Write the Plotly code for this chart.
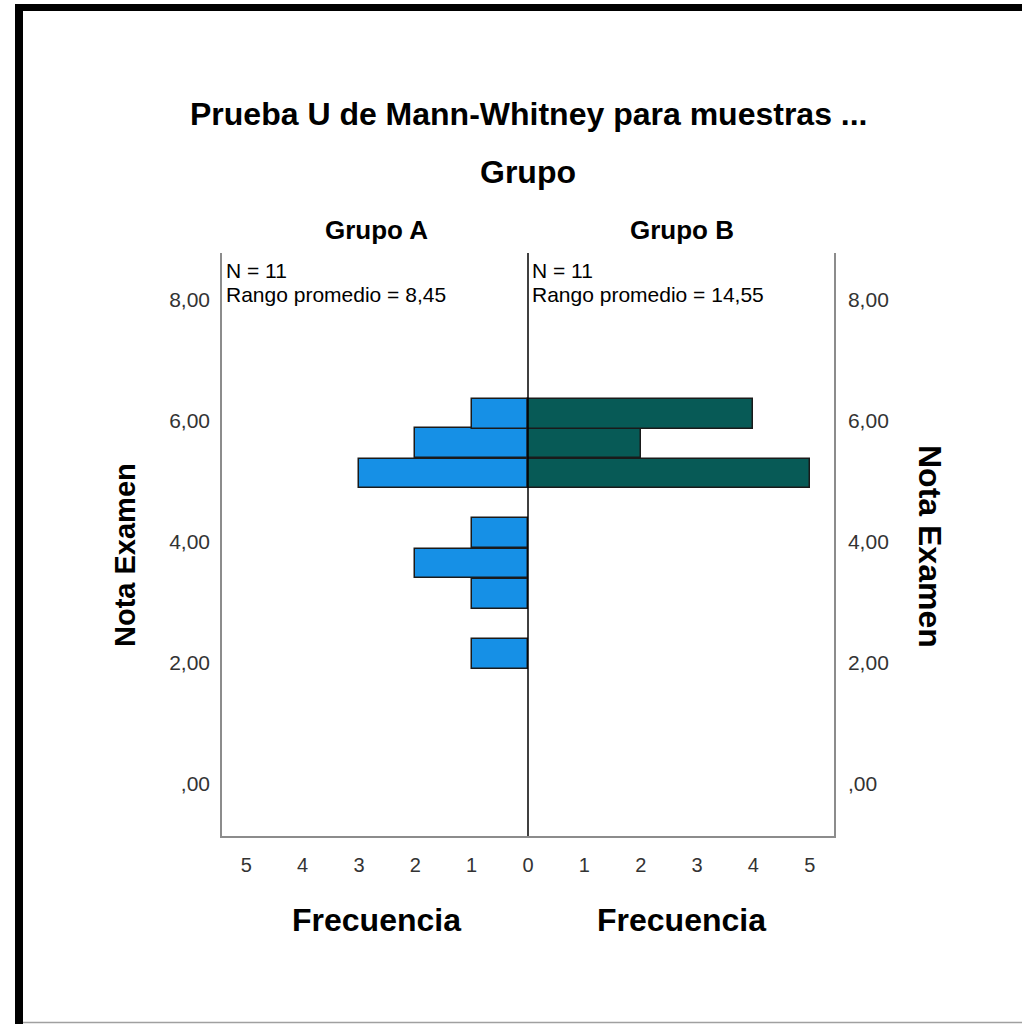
import plotly.graph_objects as go

W, H = 1022, 1024

# ---- data ----
nota_bins = [2.15, 3.14, 3.64, 4.14, 5.13, 5.63, 6.12]   # bin centres (Nota Examen)
freq_grupo_a = [1, 1, 2, 1, 3, 2, 1]
freq_grupo_b = [0, 0, 0, 0, 5, 2, 4]
bin_width = 0.495
freq_ticks = [-5, -4, -3, -2, -1, 0, 1, 2, 3, 4, 5]
freq_labels = ["5", "4", "3", "2", "1", "0", "1", "2", "3", "4", "5"]
nota_ticks = [0, 2, 4, 6, 8]
nota_labels = [",00", "2,00", "4,00", "6,00", "8,00"]
stats_a = ["N = 11", "Rango promedio = 8,45"]
stats_b = ["N = 11", "Rango promedio = 14,55"]

FONT = "Liberation Sans, Arial, sans-serif"
BLUE = "#1690E6"
TEAL = "#075A56"
EDGE = "#1a1a1a"
AXC = "#8c8c8c"


def px(x):
    return x / W


def py(y):
    return 1 - y / H


ya = [y for y, c in zip(nota_bins, freq_grupo_a) if c > 0]
xa = [-c for c in freq_grupo_a if c > 0]
yb = [y for y, c in zip(nota_bins, freq_grupo_b) if c > 0]
xb = [c for c in freq_grupo_b if c > 0]

fig = go.Figure()
fig.add_trace(go.Bar(
    x=xa, y=ya, orientation="h", width=bin_width, name="Grupo A",
    marker=dict(color=BLUE, line=dict(color=EDGE, width=1.5)),
    xaxis="x", yaxis="y", showlegend=False, hoverinfo="skip"))
fig.add_trace(go.Bar(
    x=xb, y=yb, orientation="h", width=bin_width, name="Grupo B",
    marker=dict(color=TEAL, line=dict(color=EDGE, width=1.5)),
    xaxis="x", yaxis="y2", showlegend=False, hoverinfo="skip"))

yr = [-0.87, 8.78]
tickfont = dict(family=FONT, size=21, color="#333333")

fig.update_layout(
    width=W, height=H, autosize=False,
    margin=dict(l=0, r=0, t=0, b=0),
    paper_bgcolor="white", plot_bgcolor="white",
    barmode="overlay", bargap=0,
    xaxis=dict(domain=[px(222), px(834)], range=[-5.43, 5.43],
               tickmode="array", tickvals=freq_ticks, ticktext=freq_labels,
               showline=True, linecolor=AXC, linewidth=1.5, mirror=False,
               showgrid=False, zeroline=False, ticks="",
               tickfont=dict(family=FONT, size=20, color="#333333"),
               ticklabelstandoff=10, anchor="y"),
    yaxis=dict(domain=[py(836), py(253)], range=yr,
               tickmode="array", tickvals=nota_ticks, ticktext=nota_labels,
               showline=True, linecolor=AXC, linewidth=1.5,
               showgrid=False, zeroline=False, ticks="",
               tickfont=tickfont, ticklabelstandoff=6, anchor="x"),
    yaxis2=dict(overlaying="y", side="right", range=yr, anchor="x",
                tickmode="array", tickvals=nota_ticks, ticktext=nota_labels,
                showline=True, linecolor=AXC, linewidth=1.5,
                showgrid=False, zeroline=False, ticks="",
                tickfont=tickfont, ticklabelstandoff=8),
)

shapes = [
    # centre line at 0
    dict(type="line", xref="x", yref="paper", x0=0, x1=0,
         y0=py(836), y1=py(253), line=dict(color="black", width=1.5)),
    # screenshot frame
    dict(type="rect", xref="paper", yref="paper", x0=px(15), x1=px(23),
         y0=py(1024), y1=py(4), fillcolor="black", line=dict(width=0)),
    dict(type="rect", xref="paper", yref="paper", x0=px(15), x1=px(1022),
         y0=py(11), y1=py(4), fillcolor="black", line=dict(width=0)),
    dict(type="line", xref="paper", yref="paper", x0=px(23), x1=px(1022),
         y0=py(1022.5), y1=py(1022.5), line=dict(color="#a0a0a0", width=1.5)),
]
fig.update_layout(shapes=shapes)

ann = []


def add(text, x, y, size, bold=False, xanchor="center", yanchor="middle",
        angle=0, color="black"):
    ann.append(dict(text=f"<b>{text}</b>" if bold else text,
                    xref="paper", yref="paper", x=px(x), y=py(y),
                    xanchor=xanchor, yanchor=yanchor, textangle=angle,
                    showarrow=False,
                    font=dict(family=FONT, size=size, color=color)))


add("Prueba U de Mann-Whitney para muestras ...", 528, 114, 32, bold=True)
add("Grupo", 528, 172, 32, bold=True)
add("Grupo A", 376, 230, 26, bold=True)
add("Grupo B", 682, 230, 26, bold=True)
add(stats_a[0], 224, 270, 21, xanchor="left")
add(stats_a[1], 224, 294, 21, xanchor="left")
add(stats_b[0], 530, 270, 21, xanchor="left")
add(stats_b[1], 530, 294, 21, xanchor="left")
add("Nota Examen", 125, 555, 29, bold=True, angle=-90)
add("Nota Examen", 930, 546, 32, bold=True, angle=90)
add("Frecuencia", 376, 920, 32, bold=True)
add("Frecuencia", 681, 920, 32, bold=True)

fig.update_layout(annotations=ann)

fig.write_html("out.html", config={"displayModeBar": False},
               post_script="document.body.style.margin='0';")
